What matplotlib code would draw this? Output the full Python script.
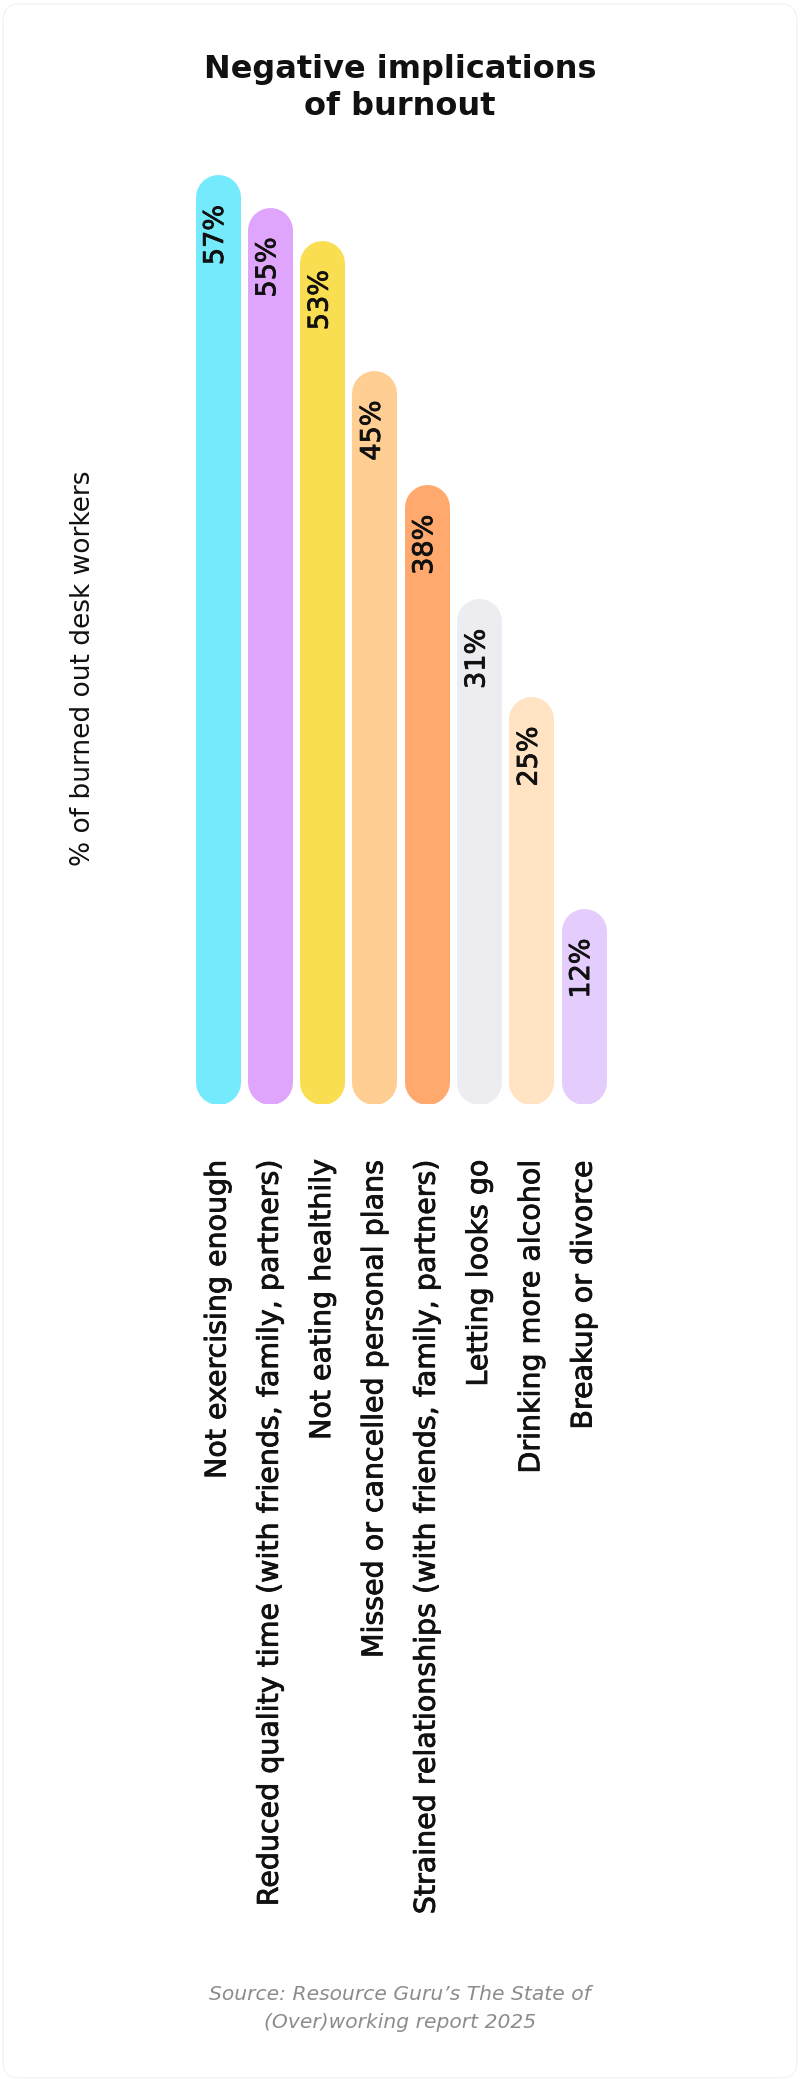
import matplotlib
matplotlib.use("Agg")
import matplotlib.pyplot as plt
import matplotlib.patheffects as pe
from matplotlib.patches import FancyBboxPatch

# ---- data ----
categories = [
    "Not exercising enough",
    "Reduced quality time (with friends, family, partners)",
    "Not eating healthily",
    "Missed or cancelled personal plans",
    "Strained relationships (with friends, family, partners)",
    "Letting looks go",
    "Drinking more alcohol",
    "Breakup or divorce",
]
values = [57, 55, 53, 45, 38, 31, 25, 12]
colors = ["#75EAFD", "#DFA5FC", "#F9DE52", "#FECE92",
          "#FFA96E", "#ECECF1", "#FFE3C2", "#E4CCFD"]
value_labels = [f"{v}%" for v in values]
title = "Negative implications\nof burnout"
ylabel = "% of burned out desk workers"
source = "Source: Resource Guru\u2019s The State of\n(Over)working report 2025"

plt.rcParams["font.family"] = ["DejaVu Sans"]

W, H, DPI = 8, 20.82, 100
fig = plt.figure(figsize=(W, H), dpi=DPI)
fig.patch.set_facecolor("white")

# faint rounded card border
card = FancyBboxPatch((0.004, 0.002), 0.992, 0.996,
                      boxstyle="round,pad=0,rounding_size=0.02",
                      transform=fig.transFigure, facecolor="white",
                      edgecolor="#F3F3F3", linewidth=1.0, mutation_aspect=800 / 2082,
                      zorder=-10)
fig.patches.append(card)

FW, FH = 800, 2082
ppu_target = 16.3
ax = fig.add_axes([191.35 / FW, (FH - 1104) / FH, 418.4 / FW, 60 * ppu_target / FH])
ax.set_zorder(5)
ax.set_xlim(-0.5, len(categories) - 0.5)
ax.set_ylim(0, 60)
ax.set_facecolor("none")
for s in ax.spines.values():
    s.set_visible(False)
ax.set_yticks([])

fig.canvas.draw()
ppu = ax.bbox.height / 60.0  # pixels per data unit
bar_px = 45
r = (bar_px / 2) / ppu
lw_pt = bar_px * 72 / DPI

stroke = [pe.withStroke(linewidth=0.6, foreground="#111111")]
for i, (v, c, lab) in enumerate(zip(values, colors, value_labels)):
    ax.plot([i, i], [r, v - r], color=c, linewidth=lw_pt,
            solid_capstyle="round", zorder=2)
    ax.text(i - 0.03, v - 30 / ppu, lab, rotation=90, ha="center", va="top",
            fontsize=19.5, color="#111111", zorder=3, path_effects=stroke)

ax.set_xticks(range(len(categories)))
ax.set_xticklabels(categories, rotation=90, fontsize=20.5, color="#111111")
for t in ax.get_xticklabels():
    t.set_path_effects(stroke)
ax.tick_params(axis="x", length=0, pad=40)

fig.text(83 / FW, 1 - 668 / FH, ylabel, rotation=90, ha="center", va="center",
         fontsize=19, color="#111111")

fig.text(0.5, 1 - 88 / FH, title, ha="center", va="center", fontsize=23,
         fontweight="bold", color="#111111", linespacing=1.25)

fig.text(0.5, 1 - 2008 / FH, source, ha="center", va="center", fontsize=14.6,
         style="italic", color="#8C8C8C", linespacing=1.6)

fig.savefig("out.png", dpi=DPI, facecolor="white")
